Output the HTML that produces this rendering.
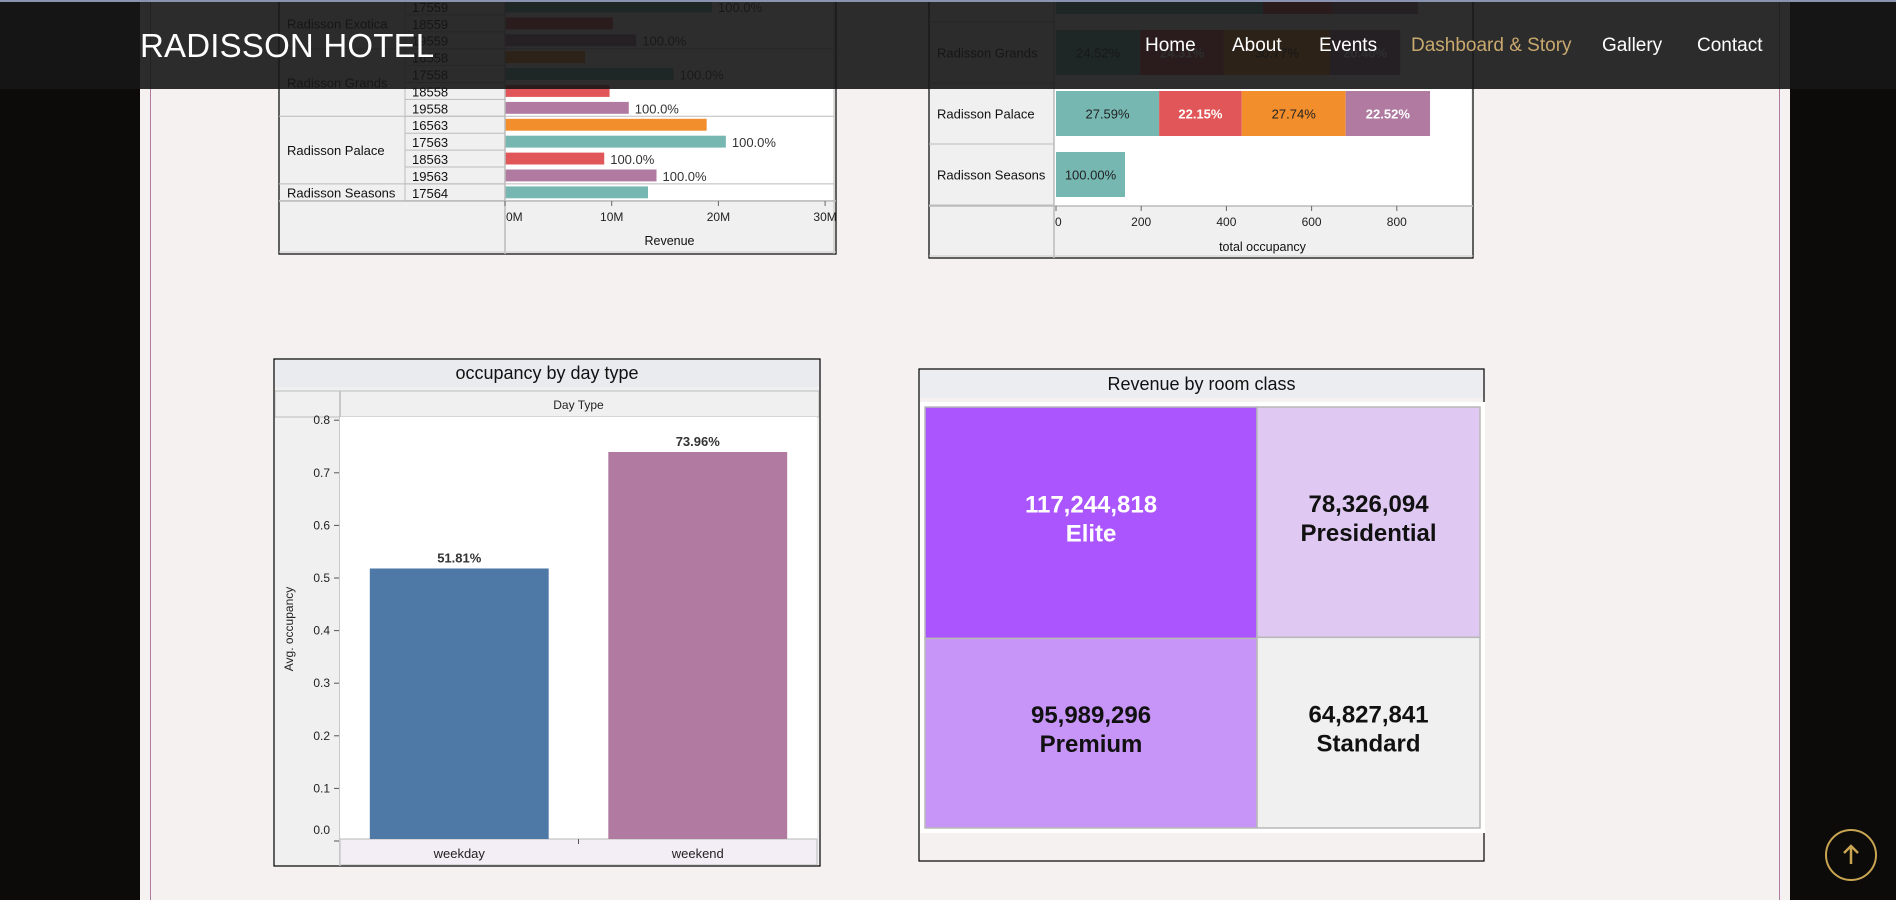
<!DOCTYPE html>
<html><head><meta charset="utf-8">
<style>
html,body{margin:0;padding:0;width:1896px;height:900px;overflow:hidden;background:#0c0b0a;font-family:"Liberation Sans",sans-serif;}
#page{position:absolute;left:140px;top:0;width:1650px;height:900px;background:#f4f1f0;}
#nav{position:absolute;left:0;top:0;width:1896px;height:89px;background:rgba(22,22,22,0.9);border-top:2px solid #8a93b0;box-sizing:border-box;}
#nav .brand{position:absolute;left:140px;top:25px;color:#fff;font-size:33px;letter-spacing:0.2px;}
#nav a{position:absolute;top:33px;color:#fff;font-size:19px;text-decoration:none;}
#up{position:absolute;left:1825px;top:829px;width:52px;height:52px;border:2px solid #c9a552;border-radius:50%;box-sizing:border-box;}
svg text{font-family:"Liberation Sans",sans-serif;}
</style></head><body>
<div id="page"></div>
<svg id="chart" width="1896" height="900" style="position:absolute;left:0;top:0">
<line x1="150.5" y1="0" x2="150.5" y2="900" stroke="#b07aa1" stroke-width="1"/>
<line x1="1779.5" y1="0" x2="1779.5" y2="900" stroke="#b07aa1" stroke-width="1"/>
</svg>
<div id="nav">
<div class="brand">RADISSON HOTEL</div>
<a style="left:1145px">Home</a>
<a style="left:1232px">About</a>
<a style="left:1319px">Events</a>
<a style="left:1411px;color:#c9a96e">Dashboard &amp; Story</a>
<a style="left:1602px">Gallery</a>
<a style="left:1697px">Contact</a>
</div>
<div id="up">
<svg width="48" height="48" style="position:absolute;left:0;top:0"><path d="M24 33 V16 M17 22 L24 15 L31 22" stroke="#c9a552" stroke-width="2.5" fill="none"/></svg>
</div>
<script>
// ---- Chart 1: revenue by property ----
const revHotels = ["Radisson Exotica","Radisson Grands","Radisson Palace","Radisson Seasons"];
const revHotelRows = [3,4,4,1];
const revIds = ["17559","18559","19559","16558","17558","18558","19558","16563","17563","18563","19563","17564"];
const revValues = [19.4,10.1,12.3,7.5,15.8,9.8,11.6,18.9,20.7,9.3,14.2,13.4];
const revLabels = ["100.0%","","100.0%","","100.0%","","100.0%","","100.0%","100.0%","100.0%",""];
const revTicks = [0,10,20,30];
// ---- Chart 2: occupancy by property ----
const occHotels = ["Radisson Exotica","Radisson Grands","Radisson Palace","Radisson Seasons"];
const occValues = [[486,162,0,202],[198,196,249,165],[242,194,244,198],[162,0,0,0]];
const occLabels = [["","","",""],["24.52%","24.31%","30.77%","20.40%"],["27.59%","22.15%","27.74%","22.52%"],["100.00%","","",""]];
const occTicks = [0,200,400,600,800];
// ---- Chart 3: day type ----
const dayTypes = ["weekday","weekend"];
const dayValues = [0.5181,0.7396];
const dayTicks = [0,0.1,0.2,0.3,0.4,0.5,0.6,0.7,0.8];
// ---- Chart 4: treemap ----
const roomClasses = ["Elite","Premium","Presidential","Standard"];
const roomRevenue = [117244818,95989296,78326094,64827841];

const svg=document.getElementById('chart');
const NS='http://www.w3.org/2000/svg';
function mk(tag,at,txt){const e=document.createElementNS(NS,tag);for(const k in at)e.setAttribute(k,at[k]);if(txt!==undefined)e.textContent=txt;svg.appendChild(e);return e;}
const segColors=["#76b7b2","#e15759","#f28e2b","#b07aa1"];
function idColor(id){return {"16":"#f28e2b","17":"#76b7b2","18":"#e15759","19":"#b07aa1"}[id.slice(0,2)];}

// Chart 1
(function(){
  const L=279,R=836,T=-40,B=254,c1=405,c2=505,pR=834,rowTop=-2,rowH=16.9,axT=201;
  const x=v=>c2+v*10.67;
  let e=mk('rect',{x:L,y:T,width:R-L,height:B-T,fill:'#f0f0f0',stroke:'#000','stroke-width':1.2});
  
  mk('rect',{x:c2,y:T,width:pR-c2,height:axT-T,fill:'#fff'});
  let r=0;
  revHotels.forEach((h,i)=>{
    const y0=rowTop+r*rowH,y1=rowTop+(r+revHotelRows[i])*rowH;
    mk('line',{x1:L,x2:pR,y1:y1,y2:y1,stroke:'#bbb'});
    const t=mk('text',{x:L+8,y:(y0+y1)/2+5,'font-size':13,fill:'#111'},h);
    
    r+=revHotelRows[i];
  });
  revIds.forEach((id,i)=>{
    const y0=rowTop+i*rowH;
    mk('line',{x1:c1,x2:c2,y1:y0+rowH,y2:y0+rowH,stroke:'#bbb'});
    const t=mk('text',{x:c1+7,y:y0+rowH-3,'font-size':13,fill:'#111'},id);
    
    const b=mk('rect',{x:c2,y:y0+2.5,width:x(revValues[i])-c2,height:rowH-5,fill:idColor(id)});
    
    if(revLabels[i]){const l=mk('text',{x:x(revValues[i])+6,y:y0+rowH-3,'font-size':13,fill:'#333'},revLabels[i]);
      }
  });
  mk('line',{x1:c1,x2:c1,y1:T,y2:axT,stroke:'#bbb'});
  mk('line',{x1:c2,x2:c2,y1:T,y2:B,stroke:'#bbb','stroke-width':1.5});
  mk('line',{x1:pR,x2:pR,y1:T,y2:B,stroke:'#bbb'});
  mk('line',{x1:L,x2:R,y1:axT,y2:axT,stroke:'#bbb','stroke-width':1.5});
  mk('line',{x1:L,x2:R,y1:B-2,y2:B-2,stroke:'#ccc'});
  revTicks.forEach(v=>{
    mk('line',{x1:x(v),x2:x(v),y1:axT,y2:axT+5,stroke:'#666'});
    const t=mk('text',{x:v===0?x(v)+1:x(v),y:axT+20,'font-size':12,fill:'#222','text-anchor':v===0?'start':'middle'},v+'M');
    
  });
  const at=mk('text',{x:(c2+pR)/2,y:B-9,'font-size':12.5,fill:'#111','text-anchor':'middle'},'Revenue');
  
})();

// Chart 2
(function(){
  const L=929,R=1473,T=-60,B=258,c1=1054,pR=1471,rowTop=-39,rowH=61,axT=206;
  const x=v=>1056+v*0.426;
  let e=mk('rect',{x:L,y:T,width:R-L,height:B-T,fill:'#f0f0f0',stroke:'#000','stroke-width':1.2});
  
  mk('rect',{x:c1,y:T,width:pR-c1,height:axT-T,fill:'#fff'});
  occHotels.forEach((h,i)=>{
    const y0=rowTop+i*rowH;
    mk('line',{x1:L,x2:c1,y1:y0+rowH,y2:y0+rowH,stroke:'#bbb'});
    const t=mk('text',{x:L+8,y:y0+rowH/2+5,'font-size':13,fill:'#111'},h);
    
    let acc=0;
    occValues[i].forEach((v,j)=>{
      if(!v)return;
      const b=mk('rect',{x:x(acc),y:y0+8,width:x(acc+v)-x(acc),height:rowH-16,fill:segColors[j]});
      
      if(occLabels[i][j]){const dark=(j===0||j===2);
        const l=mk('text',{x:x(acc+v/2),y:y0+rowH/2+5,'font-size':13,'text-anchor':'middle',fill:dark?'#222':'#fff','font-weight':dark?'normal':'bold'},occLabels[i][j]);
        }
      acc+=v;
    });
  });
  mk('line',{x1:c1,x2:c1,y1:T,y2:B,stroke:'#bbb','stroke-width':1.5});
  mk('line',{x1:L,x2:R,y1:axT,y2:axT,stroke:'#bbb','stroke-width':1.5});
  mk('line',{x1:L,x2:R,y1:B-2,y2:B-2,stroke:'#ccc'});
  occTicks.forEach(v=>{
    mk('line',{x1:x(v),x2:x(v),y1:axT,y2:axT+5,stroke:'#666'});
    const t=mk('text',{x:v===0?x(v)-1:x(v),y:axT+20,'font-size':12,fill:'#222','text-anchor':v===0?'start':'middle'},v);
    
  });
  const at=mk('text',{x:(c1+pR)/2,y:B-7,'font-size':12.5,fill:'#111','text-anchor':'middle'},'total occupancy');
  
})();

// Chart 3
(function(){
  const L=274,R=820,T=359,B=866,pL=340,pR=817,pT=417,pB=839;
  const y=v=>841-v*526;
  const band=(pR-pL)/dayTypes.length;
  let e=mk('rect',{x:L,y:T,width:R-L,height:B-T,fill:'#f0f0f0',stroke:'#000','stroke-width':1.2});
  
  mk('rect',{x:L+1,y:T+1,width:R-L-2,height:27,fill:'#e9ebee'});
  const tt=mk('text',{x:(L+R)/2,y:T+20,'font-size':18,'text-anchor':'middle',fill:'#111'},'occupancy by day type');
  
  mk('rect',{x:L+1,y:391,width:R-L-2,height:26,fill:'#f0f0f0',stroke:'#bbb'});
  mk('line',{x1:pL,x2:pL,y1:391,y2:B,stroke:'#bbb','stroke-width':1.5});
  const ht=mk('text',{x:(pL+pR)/2,y:409,'font-size':12,'text-anchor':'middle',fill:'#222'},'Day Type');
  
  mk('rect',{x:pL,y:pT,width:pR-pL,height:pB-pT,fill:'#fff'});
  mk('rect',{x:pL,y:pB,width:pR-pL,height:B-pB-1,fill:'#f3eef5',stroke:'#bbb'});
  dayTicks.forEach(v=>{
    mk('line',{x1:pL-6,x2:pL-1,y1:y(v),y2:y(v),stroke:'#555'});
    const t=mk('text',{x:pL-10,y:Math.min(y(v)+4,834),'font-size':12,'text-anchor':'end',fill:'#222'},v.toFixed(1));
    
  });
  const yt=mk('text',{x:0,y:0,'font-size':12,'text-anchor':'middle',fill:'#222',transform:'translate(293,629) rotate(-90)'},'Avg. occupancy');
  
  const cols=['#4e79a7','#b07aa1'];
  dayTypes.forEach((d,i)=>{
    const cx=pL+band*(i+0.5),w=band*0.75;
    const b=mk('rect',{x:cx-w/2,y:y(dayValues[i]),width:w,height:pB-y(dayValues[i]),fill:cols[i]});
    
    const l=mk('text',{x:cx,y:y(dayValues[i])-6,'font-size':13,'font-weight':'bold','text-anchor':'middle',fill:'#333'},(dayValues[i]*100).toFixed(2)+'%');
    
    const c=mk('text',{x:cx,y:pB+19,'font-size':13,'text-anchor':'middle',fill:'#222'},d);
    
  });
  mk('line',{x1:pL+band,x2:pL+band,y1:pB,y2:pB+5,stroke:'#555'});
})();

// Chart 4: treemap
(function(){
  const L=919,R=1484,T=369,B=861,tL=925,tR=1480,tT=407,tB=828;
  let e=mk('rect',{x:L,y:T,width:R-L,height:B-T,fill:'#f4f1f0',stroke:'#000','stroke-width':1.2});
  
  mk('rect',{x:L+1,y:T+1,width:R-L-2,height:28,fill:'#ebedf0'});
  const tt=mk('text',{x:(L+R)/2,y:T+21,'font-size':18,'text-anchor':'middle',fill:'#111'},'Revenue by room class');
  
  mk('rect',{x:tL-5,y:tT-5,width:tR-tL+10,height:tB-tT+10,fill:'#fff'});
  const cols={"Elite":"#ab55ff","Premium":"#c794f8","Presidential":"#dfc9f3","Standard":"#f1f0f0"};
  const total=roomRevenue.reduce((a,b)=>a+b,0);
  const leftSum=roomRevenue[0]+roomRevenue[1],rightSum=roomRevenue[2]+roomRevenue[3];
  const xm=tL+(tR-tL)*leftSum/total;
  const cells=[
    [0,tL,tT,xm,tT+(tB-tT)*roomRevenue[0]/leftSum],
    [1,tL,tT+(tB-tT)*roomRevenue[0]/leftSum,xm,tB],
    [2,xm,tT,tR,tT+(tB-tT)*roomRevenue[2]/rightSum],
    [3,xm,tT+(tB-tT)*roomRevenue[2]/rightSum,tR,tB]];
  cells.forEach(([i,x0,y0,x1,y1])=>{
    const n=roomClasses[i];
    const r=mk('rect',{x:x0,y:y0,width:x1-x0,height:y1-y0,fill:cols[n],stroke:'#b8b8b8','stroke-width':1.5});
    
    const fc=n==='Elite'?'#fff':'#111',cx=(x0+x1)/2,cy=(y0+y1)/2;
    const a=mk('text',{x:cx,y:cy-10,'font-size':24,'font-weight':'bold','text-anchor':'middle',fill:fc},roomRevenue[i].toLocaleString('en-US'));
    
    const b=mk('text',{x:cx,y:cy+19,'font-size':24,'font-weight':'bold','text-anchor':'middle',fill:fc},n);
    
  });
})();
</script>
</body></html>
